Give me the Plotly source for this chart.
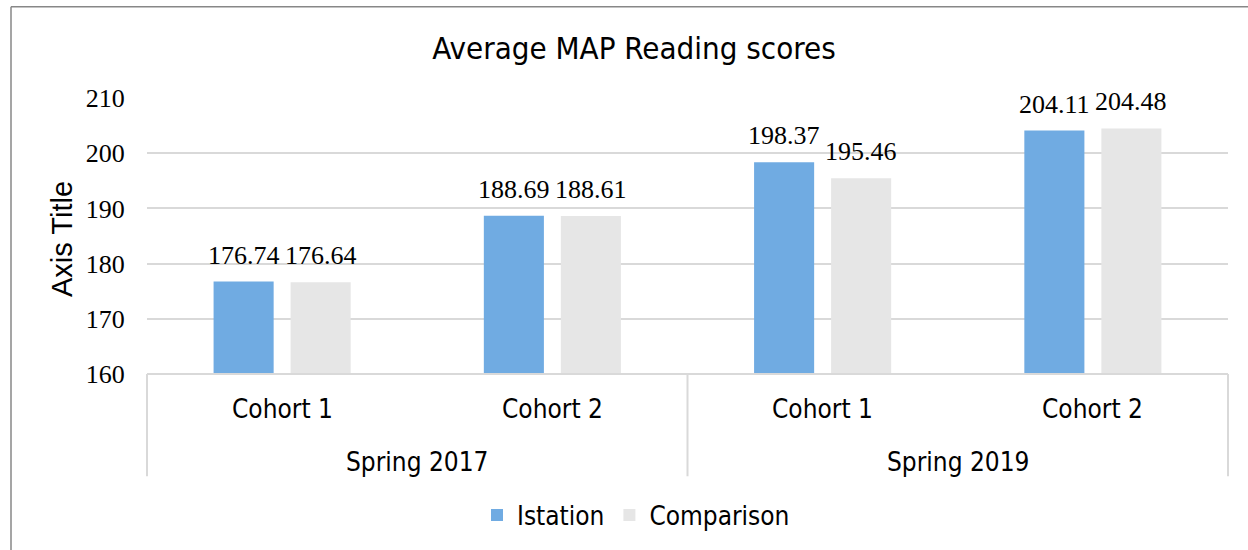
import plotly.graph_objects as go

# ---- data ----
cohorts = ["Cohort 1", "Cohort 2", "Cohort 1", "Cohort 2"]
terms = ["Spring 2017", "Spring 2019"]
istation = [176.74, 188.69, 198.37, 204.11]
comparison = [176.64, 188.61, 195.46, 204.48]
series_names = ["Istation", "Comparison"]
y_ticks = [160, 170, 180, 190, 200, 210]
title_text = "Average MAP Reading scores"
y_title = "Axis Title"

BLUE = "rgb(112,171,226)"
GRAY = "rgb(230,230,230)"
SANS = "DejaVu Sans Condensed, Tahoma, DejaVu Sans, sans-serif"
SERIF = "Liberation Serif, Times New Roman, serif"

W, H = 1248, 550
L, R, T, B = 147, 20, 98, 174
PW, PH = W - L - R, H - T - B

def px_x(px):
    return (px - L) / PW

def px_y(py):
    return (H - B - py) / PH

xs = list(range(len(cohorts)))

fig = go.Figure()
fig.add_trace(go.Bar(x=xs, y=istation, name=series_names[0], marker_color=BLUE,
                     marker_line_width=0))
fig.add_trace(go.Bar(x=xs, y=comparison, name=series_names[1], marker_color=GRAY,
                     marker_line_width=0))

annotations = []
# data labels
for i in xs:
    for vals, sh in ((istation, -38.5), (comparison, 38.5)):
        annotations.append(dict(x=i, y=vals[i], xref="x", yref="y", text=f"{vals[i]:.2f}",
                                showarrow=False, xshift=sh, yshift=10, yanchor="bottom",
                                font=dict(family=SERIF, size=26, color="#000")))
# category labels
for i, c in enumerate(cohorts):
    annotations.append(dict(x=i, y=px_y(411), xref="x", yref="paper", text=c,
                            showarrow=False, yanchor="middle",
                            font=dict(family=SANS, size=26, color="#000")))
for j, t in enumerate(terms):
    annotations.append(dict(x=2 * j + 0.5, y=px_y(465), xref="x", yref="paper", text=t,
                            showarrow=False, yanchor="middle",
                            font=dict(family=SANS, size=26, color="#000")))
# axis title
annotations.append(dict(x=px_x(62), y=px_y(240), xref="paper", yref="paper", text=y_title,
                        showarrow=False, textangle=-90, xanchor="center", yanchor="middle",
                        font=dict(family="Liberation Sans, Arial, sans-serif", size=29, color="#000")))

shapes = []
line_c = "rgb(217,217,217)"
shapes.append(dict(type="line", xref="paper", yref="paper", x0=0, x1=1, y0=0, y1=0,
                   line=dict(color=line_c, width=2)))
for xp in (0, 0.5, 1):
    shapes.append(dict(type="line", xref="paper", yref="paper", x0=xp, x1=xp,
                       y0=0, y1=px_y(479), line=dict(color=line_c, width=2)))
# outer chart border
border_c = "rgb(135,135,135)"
shapes.append(dict(type="line", xref="paper", yref="paper", x0=px_x(11), x1=px_x(11),
                   y0=px_y(6), y1=px_y(560), line=dict(color=border_c, width=1.5)))
shapes.append(dict(type="line", xref="paper", yref="paper", x0=px_x(11), x1=px_x(1260),
                   y0=px_y(6), y1=px_y(6), line=dict(color=border_c, width=1.5)))

fig.update_layout(
    width=W, height=H, autosize=False,
    margin=dict(l=L, r=R, t=T, b=B, pad=0),
    paper_bgcolor="white", plot_bgcolor="white",
    barmode="group", bargap=0.43, bargroupgap=0.22,
    title=dict(text=title_text, x=634 / W, xref="container", xanchor="center",
               y=1 - 48 / H, yref="container", yanchor="middle",
               font=dict(family=SANS, size=31, color="#000")),
    xaxis=dict(range=[-0.5, 3.5], showticklabels=False, showgrid=False, zeroline=False,
               showline=False, ticks=""),
    yaxis=dict(range=[160, 210], tickvals=y_ticks, showgrid=True, gridcolor=line_c,
               gridwidth=1.5, zeroline=False, showline=False, ticks="outside", ticklen=16,
               tickcolor="rgba(0,0,0,0)", tickfont=dict(family=SERIF, size=26, color="#000")),
    legend=dict(orientation="h", x=px_x(636), xanchor="center", y=px_y(518), yanchor="middle",
                font=dict(family=SANS, size=26, color="#000"), itemsizing="constant",
                traceorder="normal", itemwidth=30),
    showlegend=True,
    annotations=annotations,
    shapes=shapes,
)

fig.write_html("out.html", config={"displayModeBar": False},
               post_script="document.body.style.margin='0';document.body.style.overflow='hidden';")
